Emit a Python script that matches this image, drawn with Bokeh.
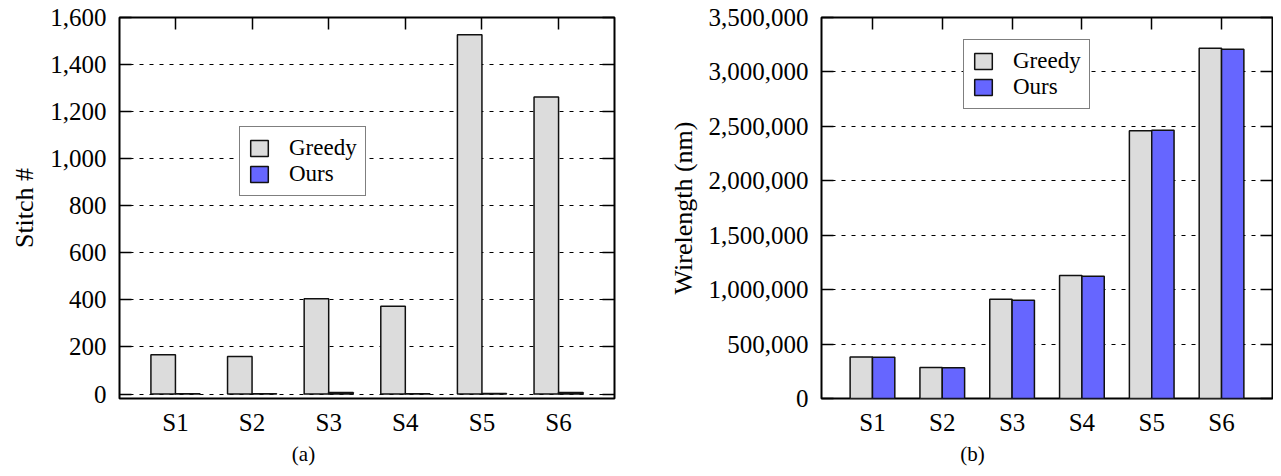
from bokeh.plotting import figure
from bokeh.models import (Range1d, FixedTicker, NumeralTickFormatter, LinearAxis,
                          Legend, LegendItem, ColumnDataSource)
from bokeh.layouts import row
from bokeh.transform import dodge
from bokeh.embed import file_html
from bokeh.resources import INLINE

categories = ["S1", "S2", "S3", "S4", "S5", "S6"]
stitch_greedy = [167, 159, 405, 373, 1527, 1262]
stitch_ours = [1, 1, 6, 1, 2, 6]
wl_greedy = [382000, 285000, 912000, 1131000, 2459000, 3217000]
wl_ours = [380000, 282000, 903000, 1122000, 2465000, 3208000]
stitch_ticks = [0, 200, 400, 600, 800, 1000, 1200, 1400, 1600]
wl_ticks = [0, 500000, 1000000, 1500000, 2000000, 2500000, 3000000, 3500000]
series_names = ["Greedy", "Ours"]
captions = ["(a)", "(b)"]
y_titles = ["Stitch #", "Wirelength (nm)"]

FONT = "Liberation Serif, Times New Roman, serif"
GRAY = "#dcdcdc"
BLUE = "#6666ff"
X_LO, X_HI = 0.27, 6.73


def make_panel(greedy, ours, yticks, ylo, yhi, ytitle, caption, width, height,
               mb_left, mb_right, mb_top, mb_bottom, legend_loc, caption_px):
    idx = list(range(1, len(categories) + 1))
    src = ColumnDataSource(dict(x=idx, greedy=greedy, ours=ours))
    p = figure(width=width, height=height, output_backend="svg", toolbar_location=None,
               x_range=Range1d(X_LO, X_HI), y_range=Range1d(ylo, yhi),
               min_border_left=mb_left, min_border_right=mb_right,
               min_border_top=mb_top, min_border_bottom=mb_bottom,
               background_fill_color="white", border_fill_color="white")
    p.outline_line_color = "black"
    p.outline_line_width = 2
    p.xgrid.visible = False
    p.ygrid.grid_line_color = "black"
    p.ygrid.grid_line_dash = "4 6"
    p.ygrid.grid_line_width = 1

    r1 = p.vbar(x=dodge("x", -0.16, range=p.x_range), top="greedy", width=0.32, bottom=0,
                source=src, fill_color=GRAY, line_color="#111111", line_width=1.5)
    r2 = p.vbar(x=dodge("x", 0.16, range=p.x_range), top="ours", width=0.32, bottom=0,
                source=src, fill_color=BLUE, line_color="#111111", line_width=1.5)

    xa = p.xaxis[0]
    xa.ticker = FixedTicker(ticks=idx)
    xa.major_label_overrides = {i: c for i, c in zip(idx, categories)}
    xa.major_tick_in = 0
    xa.major_tick_out = 0
    xa.minor_tick_line_color = None
    xa.axis_line_color = None
    xa.major_label_text_font = FONT
    xa.major_label_text_font_size = "25px"
    xa.major_label_text_color = "black"
    xa.major_label_standoff = 10

    # caption "(a)"/"(b)": a tick-less axis below, its single label placed at the
    # caption's horizontal centre (sub-figure centre, not frame centre)
    frame_w = width - mb_left - mb_right
    cx = X_LO + (caption_px - mb_left) / frame_w * (X_HI - X_LO)
    cap_axis = LinearAxis(ticker=FixedTicker(ticks=[cx]),
                          major_label_overrides={cx: caption},
                          major_tick_in=0, major_tick_out=0, axis_line_color=None,
                          minor_tick_line_color=None, major_label_standoff=3,
                          major_label_text_font=FONT, major_label_text_font_size="21px",
                          major_label_text_color="black")
    p.add_layout(cap_axis, "below")

    ya = p.yaxis[0]
    ya.ticker = FixedTicker(ticks=yticks)
    ya.formatter = NumeralTickFormatter(format="0,0")
    ya.major_tick_in = 12
    ya.major_tick_out = 0
    ya.major_tick_line_width = 1.5
    ya.major_tick_line_color = "black"
    ya.minor_tick_line_color = None
    ya.axis_line_color = None
    ya.major_label_text_font = FONT
    ya.major_label_text_font_size = "25px"
    ya.major_label_text_color = "black"
    ya.major_label_standoff = 13
    ya.axis_label = ytitle
    ya.axis_label_text_font = FONT
    ya.axis_label_text_font_size = "26px"
    ya.axis_label_text_font_style = "normal"
    ya.axis_label_text_color = "black"
    ya.axis_label_standoff = 8

    top = LinearAxis(ticker=FixedTicker(ticks=idx), major_label_text_font_size="1px",
                     major_label_text_color=None,
                     major_label_standoff=0, major_tick_in=12, major_tick_out=0,
                     major_tick_line_width=1.5, axis_line_color=None,
                     minor_tick_line_color=None)
    p.add_layout(top, "above")
    right = LinearAxis(ticker=FixedTicker(ticks=yticks), major_label_text_font_size="1px",
                       major_label_text_color=None,
                       major_label_standoff=0, major_tick_in=12, major_tick_out=0,
                       major_tick_line_width=1.5, axis_line_color=None,
                       minor_tick_line_color=None)
    p.add_layout(right, "right")

    legend = Legend(items=[LegendItem(label=series_names[0], renderers=[r1]),
                           LegendItem(label=series_names[1], renderers=[r2])],
                    location=legend_loc, orientation="vertical",
                    label_text_font=FONT, label_text_font_size="23px",
                    label_text_color="black",
                    glyph_width=22, glyph_height=20, label_standoff=19,
                    label_height=20, spacing=0, padding=8, margin=0,
                    border_line_color="black", border_line_width=1.5,
                    background_fill_color="white", background_fill_alpha=1.0)
    p.add_layout(legend)
    return p


p1 = make_panel(stitch_greedy, stitch_ours, stitch_ticks, -19, 1600, y_titles[0], captions[0],
                width=640, height=468, mb_left=119, mb_right=26, mb_top=17, mb_bottom=70,
                legend_loc=(120, 202), caption_px=303)
p2 = make_panel(wl_greedy, wl_ours, wl_ticks, 0, 3500000, y_titles[1], captions[1],
                width=633, height=468, mb_left=181, mb_right=1, mb_top=13, mb_bottom=70,
                legend_loc=(142, 289), caption_px=332)

layout = row(p1, p2)
open("out.html", "w").write(file_html(layout, INLINE))
